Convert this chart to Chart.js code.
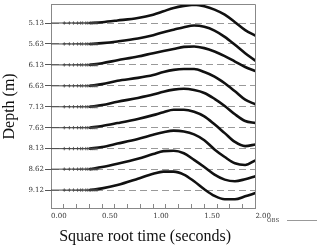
<!DOCTYPE html>
<html>
<head>
<meta charset="utf-8">
<script src="https://cdn.jsdelivr.net/npm/chart.js@4.4.1/dist/chart.umd.min.js"></script>
<style>
  html, body { margin: 0; padding: 0; background: #fff; }
</style>
</head>
<body>
<canvas id="chart" width="320" height="247"></canvas>
<script>
// sensor depths (m), also the y tick labels
const depths = [5.13, 5.63, 6.13, 6.63, 7.13, 7.63, 8.13, 8.62, 9.12];

// early samples (sqrt time), drawn as small crosses on the depth line
const markerTimes = [0, 0.13, 0.18, 0.22, 0.26, 0.29, 0.31, 0.34, 0.36, 0.39, 0.41, 0.43, 0.45];

// thick curve samples (sqrt time) and rise above each depth line (m)
const curveTimes = [0.38, 0.50, 0.65, 0.85, 1.00, 1.10, 1.20, 1.30, 1.40, 1.50, 1.60, 1.70, 1.80, 1.90, 2.00];
const rise513 = [0.00, 0.02, 0.06, 0.12, 0.20, 0.28, 0.36, 0.41, 0.44, 0.40, 0.32, 0.20, 0.02, -0.17, -0.30];
const rise563 = [0.00, 0.02, 0.06, 0.13, 0.21, 0.28, 0.34, 0.40, 0.44, 0.41, 0.32, 0.17, -0.02, -0.22, -0.40];
const rise613 = [0.00, 0.04, 0.11, 0.20, 0.28, 0.33, 0.38, 0.43, 0.44, 0.40, 0.32, 0.21, 0.08, -0.05, -0.15];
const rise663 = [0.00, 0.04, 0.12, 0.19, 0.26, 0.33, 0.38, 0.40, 0.40, 0.33, 0.22, 0.06, -0.13, -0.33, -0.44];
const rise713 = [0.00, 0.04, 0.12, 0.21, 0.29, 0.36, 0.41, 0.43, 0.40, 0.33, 0.19, 0.02, -0.18, -0.34, -0.39];
const rise763 = [0.00, 0.04, 0.11, 0.21, 0.30, 0.37, 0.43, 0.43, 0.38, 0.27, 0.08, -0.13, -0.34, -0.44, -0.40];
const rise813 = [0.00, 0.04, 0.12, 0.23, 0.33, 0.39, 0.43, 0.41, 0.34, 0.20, -0.02, -0.20, -0.35, -0.39, -0.28];
const rise862 = [0.00, 0.05, 0.13, 0.25, 0.36, 0.43, 0.44, 0.38, 0.22, 0.05, -0.13, -0.25, -0.29, -0.24, -0.17];
const rise912 = [0.00, 0.04, 0.12, 0.27, 0.39, 0.44, 0.44, 0.37, 0.21, 0.02, -0.14, -0.22, -0.22, -0.15, -0.07];
const rises = [rise513, rise563, rise613, rise663, rise713, rise763, rise813, rise862, rise912];

const legendLabel = 'OBS';

// ============================
// Datasets
// ============================
const datasets = [];
depths.forEach((d, i) => {
    datasets.push({
        data: markerTimes.map(t => ({ x: t, y: d })),
        borderColor: '#444',
        borderWidth: 1,
        pointStyle: 'cross',
        pointRadius: c => c.dataIndex === 0 ? 0 : 1.7,
        pointBorderColor: '#444',
        pointBorderWidth: 0.8,
    });
    datasets.push({
        data: curveTimes.map((t, j) => ({ x: t, y: d - rises[i][j] })),
        borderColor: '#111',
        borderWidth: 2.6,
        borderCapStyle: 'round',
        pointRadius: 0,
        cubicInterpolationMode: 'monotone',
    });
});

// frame on top/right and the small OBS key
const extras = {
    id: 'extras',
    afterDraw(chart) {
        const { ctx, chartArea: a } = chart;
        ctx.save();
        ctx.strokeStyle = '#888';
        ctx.lineWidth = 1;
        ctx.beginPath();
        ctx.moveTo(a.left, Math.floor(a.top) + 0.5);
        ctx.lineTo(Math.floor(a.right) + 0.5, Math.floor(a.top) + 0.5);
        ctx.lineTo(Math.floor(a.right) + 0.5, a.bottom);
        ctx.stroke();

        ctx.fillStyle = '#444';
        ctx.font = '5.5px "DejaVu Serif"';
        ctx.textBaseline = 'alphabetic';
        ctx.fillText(legendLabel, 267, 222);
        ctx.strokeStyle = '#999';
        ctx.beginPath();
        ctx.moveTo(287, 220.5);
        ctx.lineTo(317, 220.5);
        ctx.stroke();
        ctx.restore();
    }
};

const tickFont = { family: 'DejaVu Serif', size: 7 };
const titleFont = { family: 'Liberation Serif', size: 16 };

new Chart(document.getElementById('chart'), {
    type: 'line',
    data: { datasets },
    plugins: [extras],
    options: {
        responsive: false,
        animation: false,
        devicePixelRatio: 1,
        layout: { padding: { left: 0, right: 64.6, top: 4, bottom: 0 } },
        plugins: { legend: { display: false }, tooltip: { enabled: false } },
        scales: {
            x: {
                type: 'linear',
                min: 0,
                max: 2,
                ticks: {
                    stepSize: 0.125,
                    autoSkip: false,
                    maxRotation: 0,
                    align: 'start',
                    padding: 8,
                    font: tickFont,
                    color: '#333',
                    callback: v => (v % 0.5 === 0 ? v.toFixed(2) : ''),
                },
                grid: { drawOnChartArea: false, tickLength: -4, color: '#888' },
                border: { color: '#888' },
                title: {
                    display: true,
                    text: 'Square root time (seconds)    ',
                    font: titleFont,
                    color: '#111',
                    padding: { top: 0, bottom: 1 },
                },
                afterFit: s => { s.height = 39; },
            },
            y: {
                type: 'linear',
                reverse: true,
                min: 4.695,
                max: 9.548,
                afterBuildTicks: s => { s.ticks = depths.map(v => ({ value: v })); },
                ticks: {
                    autoSkip: false,
                    padding: 1,
                    font: tickFont,
                    color: '#333',
                    callback: v => v.toFixed(2),
                },
                grid: { color: '#999', tickLength: 6, tickColor: '#555' },
                border: { color: '#888', dash: [7, 4] },
                title: {
                    display: true,
                    text: 'Depth (m)',
                    font: titleFont,
                    color: '#111',
                    padding: { top: 0, bottom: 0 },
                },
                afterFit: s => { s.width = 51; s.paddingTop = 0; s.paddingBottom = 0; },
            }
        }
    }
});
</script>
</body>
</html>
